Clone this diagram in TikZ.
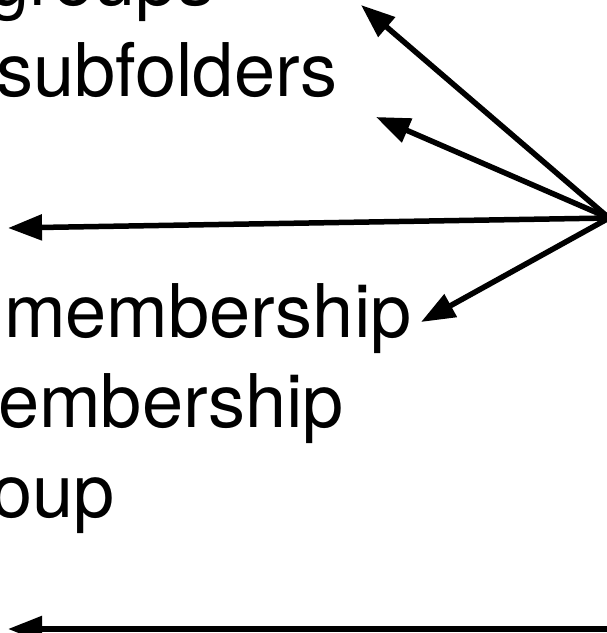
\documentclass[tikz,border=0pt]{standalone}
\usepackage{fontspec}
\setmainfont{TeX Gyre Heros}
\usetikzlibrary{arrows.meta}
\tikzset{
  lbl/.style={anchor=base west, inner sep=0pt, font=\fontsize{74}{90}\selectfont},
  pointer/.style={line width=5.5pt, -{Triangle[length=34pt,width=25pt]}},
}
\begin{document}
\begin{tikzpicture}[x=1pt,y=-1pt]
  \useasboundingbox (0,0) rectangle (607,633);
  \begin{scope}
    \clip (0,0) rectangle (607,633);
    % labels
    \node[lbl] (groups) at (-12,5) {groups};
    \node[lbl] (subf) at (-4,96) {subfolders};
    \node[lbl] (memb) at (4,337) {membership};
    \node[lbl] (emb) at (-2,427) {embership};
    \node[lbl] (oup) at (-9,517) {oup};
    % arrow ends
    \coordinate (src) at (609,218);
    \coordinate (t1) at (361,5);
    \coordinate (t2) at (376,117);
    \coordinate (t3) at (8,228);
    \coordinate (t4) at (421,322);
    \coordinate (bsrc) at (612,629);
    \coordinate (bend) at (8,629);
    % arrows
    \draw[pointer] (src) -- (t1);
    \draw[pointer] (src) -- (t2);
    \draw[pointer] (src) -- (t3);
    \draw[pointer] (src) -- (t4);
    \draw[pointer] (bsrc) -- (bend);
  \end{scope}
\end{tikzpicture}
\end{document}
